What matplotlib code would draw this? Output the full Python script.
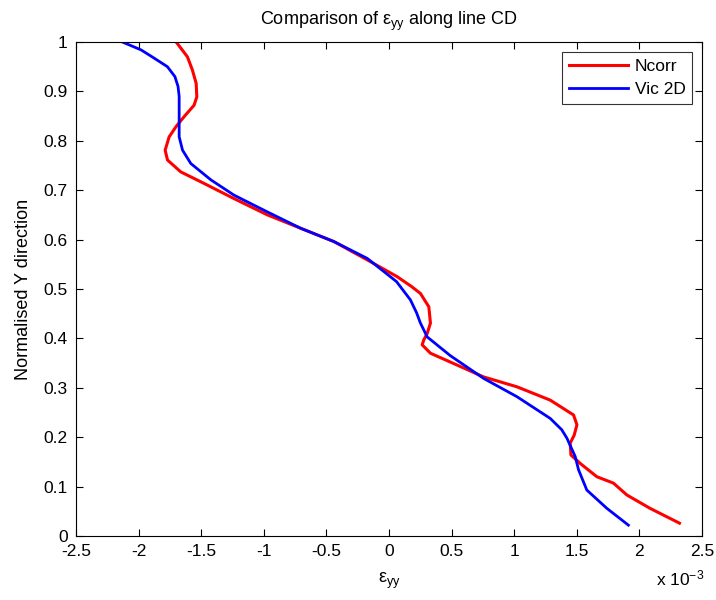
import matplotlib
matplotlib.use("Agg")
import matplotlib.pyplot as plt
import numpy as np

plt.rcParams['font.family'] = ['Liberation Sans', 'DejaVu Sans']
plt.rcParams['mathtext.fontset'] = 'custom'
plt.rcParams['mathtext.rm'] = 'Liberation Sans'
plt.rcParams['mathtext.it'] = 'Liberation Sans'

# strain values in units of 1e-3, normalised Y position
ncorr_x = [-1.70, -1.61, -1.57, -1.54, -1.535, -1.557, -1.636, -1.70, -1.756, -1.788,
           -1.769, -1.663, -1.503, -1.238, -0.971, -0.706, -0.44, -0.174, 0.065, 0.18,
           0.251, 0.318, 0.331, 0.305, 0.278, 0.265, 0.331, 0.544, 0.756, 1.022,
           1.288, 1.474, 1.501, 1.479, 1.447, 1.453, 1.527, 1.66, 1.793, 1.90,
           2.085, 2.32]
ncorr_y = [1.0, 0.970, 0.943, 0.916, 0.889, 0.872, 0.849, 0.829, 0.808, 0.781,
           0.761, 0.737, 0.717, 0.683, 0.650, 0.623, 0.596, 0.559, 0.525, 0.505,
           0.491, 0.464, 0.431, 0.410, 0.397, 0.387, 0.370, 0.346, 0.322, 0.302,
           0.275, 0.245, 0.225, 0.204, 0.188, 0.164, 0.147, 0.120, 0.107, 0.083,
           0.056, 0.026]

vic_x = [-2.13, -1.98, -1.88, -1.77, -1.71, -1.685, -1.676, -1.676, -1.676, -1.649,
         -1.583, -1.423, -1.238, -0.971, -0.706, -0.44, -0.174, 0.06, 0.171, 0.22,
         0.251, 0.305, 0.49, 0.756, 1.022, 1.288, 1.38, 1.421, 1.487, 1.514,
         1.58, 1.74, 1.912]
vic_y = [1.0, 0.984, 0.968, 0.950, 0.930, 0.910, 0.890, 0.856, 0.808, 0.781,
         0.754, 0.721, 0.690, 0.656, 0.623, 0.596, 0.562, 0.515, 0.478, 0.452,
         0.431, 0.403, 0.365, 0.319, 0.282, 0.238, 0.215, 0.198, 0.161, 0.134,
         0.093, 0.056, 0.022]

xticks = [-2.5, -2, -1.5, -1, -0.5, 0, 0.5, 1, 1.5, 2, 2.5]
xticklabels = ['-2.5', '-2', '-1.5', '-1', '-0.5', '0', '0.5', '1', '1.5', '2', '2.5']
yticks = [0, 0.1, 0.2, 0.3, 0.4, 0.5, 0.6, 0.7, 0.8, 0.9, 1]
yticklabels = ['0', '0.1', '0.2', '0.3', '0.4', '0.5', '0.6', '0.7', '0.8', '0.9', '1']

FS = 12.5

fig = plt.figure(figsize=(7.16, 6.0), dpi=100)
ax = fig.add_axes([76/716, 64/600, 626/716, 494/600])

ax.plot(ncorr_x, ncorr_y, color='#ff0000', lw=2.2, label='Ncorr',
        solid_joinstyle='round')
ax.plot(vic_x, vic_y, color='#0000ff', lw=2.0, label='Vic 2D',
        solid_joinstyle='round')

ax.set_xlim(-2.5, 2.5)
ax.set_ylim(0, 1)
ax.set_xticks(xticks)
ax.set_xticklabels(xticklabels)
ax.set_yticks(yticks)
ax.set_yticklabels(yticklabels)
ax.tick_params(direction='in', top=True, right=True, length=5, width=0.8,
               labelsize=FS, pad=6)
for s in ax.spines.values():
    s.set_linewidth(0.8)

ax.set_title(r'Comparison of $\epsilon_{yy}$ along line CD', fontsize=FS + 0.5, pad=12)
ax.set_xlabel(r'$\epsilon_{yy}$', fontsize=FS + 0.5, labelpad=8)
ax.set_ylabel('Normalised Y direction', fontsize=FS + 0.5, labelpad=8)
fig.text(680/716, 1 - 578/600, r'x 10$^{-3}$', fontsize=FS, ha='center', va='center')

leg = ax.legend(loc='upper right', fontsize=FS, frameon=True, fancybox=False,
                edgecolor='black', handlelength=3.4, handletextpad=0.4,
                borderaxespad=0.55, labelspacing=0.45)
leg.get_frame().set_linewidth(0.8)

fig.savefig('out.png', dpi=100)
